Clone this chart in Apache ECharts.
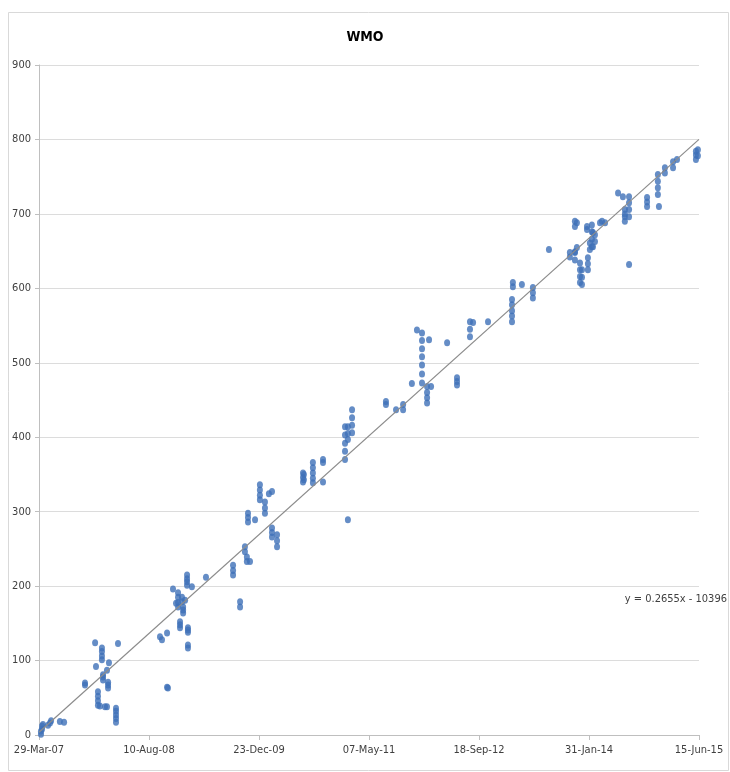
<!DOCTYPE html>
<html>
<head>
<meta charset="utf-8">
<script src="https://cdn.jsdelivr.net/npm/echarts@6/dist/echarts.min.js"></script>
<style>html,body{margin:0;padding:0;background:#fff}#c{width:730px;height:772px}</style>
</head>
<body>
<div id="c"></div>
<script>
// x = days since 29-Mar-07 (Excel serial 39170), y = value
const baseSerial = 39170;
const xTickLabels = ['29-Mar-07','10-Aug-08','23-Dec-09','07-May-11','18-Sep-12','31-Jan-14','15-Jun-15'];
const yTicks = [0,100,200,300,400,500,600,700,800,900];
const trendSlope = 0.2655;
const trendIntercept = -10396;
const trendLabel = 'y = 0.2655x - 10396';

const wmoPoints = [
[9,1],[9,5],[14,8],[14,12],[18,14],[41,13],[50,16],[55,19],[95,18],[114,17],
[255,124],[359,123],[286,101],[286,106],[286,112],[286,117],[259,92],[318,97],[309,87],[291,74],[291,78],[291,81],[209,67],[209,70],[314,63],[314,67],[314,71],[268,40],[268,46],[268,52],[268,58],[277,39],[300,38],[309,38],[350,17],[350,22],[350,27],[350,32],[350,36],
[673,201],[673,206],[673,210],[673,215],[759,212],[609,196],[695,199],[632,172],[632,178],[632,185],[632,191],[650,179],[650,185],[664,181],[623,177],[655,164],[655,168],[655,172],[641,144],[641,148],[641,152],[677,138],[677,141],[677,144],[550,132],[559,128],[582,137],[677,117],[677,121],[582,64],[586,63],
[1004,316],[1004,322],[1004,329],[1004,336],[1059,327],[1045,324],[1027,298],[1027,305],[1027,313],[950,286],[950,292],[950,298],[982,289],[1059,266],[1059,272],[1059,278],[1082,253],[1082,261],[1082,269],[936,246],[936,253],[945,233],[945,239],[959,233],[882,215],[882,221],[882,228],[914,172],[914,179],[1204,343],[1204,350],[1245,345],
[1200,340],[1200,346],[1200,352],[1245,352],[1245,359],[1245,366],[1291,366],[1291,370],[1245,339],[1291,340],
[1391,370],[1391,381],[1391,392],[1391,403],[1391,414],[1404,397],[1404,405],[1404,414],[1423,406],[1423,416],[1423,426],[1423,437],[1404,289],
[1577,444],[1577,448],[1623,437],[1655,437],[1655,444],[1718,544],[1741,473],[1741,485],[1741,497],[1741,508],[1741,519],[1741,530],[1741,540],[1773,531],[1855,527],[1695,472],[1764,446],[1764,453],[1764,460],[1764,468],[1782,468],[1900,470],[1900,475],[1900,480],
[2154,602],[2154,608],[2195,605],[2150,555],[2150,563],[2150,570],[2150,578],[2150,585],[1959,535],[1959,545],[1959,555],[1973,554],[2041,555],[2245,587],[2245,594],[2245,601],[2318,652],
[2413,642],[2413,648],[2436,649],[2445,688],[2459,608],[2459,616],[2459,625],[2459,634],[2495,625],[2495,633],[2495,641],[2491,679],[2491,683],[2513,656],[2513,666],[2513,676],[2513,685],[2527,663],[2527,672],[2550,688],[2573,688],[2632,728],[2654,723],[2663,690],[2663,696],[2682,632],
[2682,696],[2682,706],[2682,715],[2682,723],[2663,700],[2663,706],
[2764,710],[2764,716],[2764,722],[2813,726],[2813,735],[2813,744],[2813,753],[2818,710],[2845,755],[2845,762],[2882,762],[2882,770],[2900,773],[2986,773],[2986,779],[2986,784],[2995,778],[2995,786],
[2436,683],[2436,690],[2504,652],[2504,661],[2436,638],[2436,648],[2445,655],[2468,605],[2468,615],[2468,625],[2518,656],[2518,675],[2559,690]
];

const xMin = 0, xMax = 3000, xInterval = 500;
const trendPoints = [xMin, xMax].map(d => [d, trendSlope * (baseSerial + d) + trendIntercept]);

const chart = echarts.init(document.getElementById('c'), null, {renderer:'canvas'});
const labelFont = '"Liberation Sans Narrow","DejaVu Sans Condensed","Liberation Sans",Arial,sans-serif';
chart.setOption({
  animation:false,
  backgroundColor:'#fff',
  title:{text:'WMO', left:'center', top:25, textStyle:{fontFamily:labelFont, fontSize:14, fontWeight:'bold', color:'#000'}},
  grid:{left:39, right:31, top:65, bottom:37},
  xAxis:{type:'value', min:xMin, max:xMax, interval:xInterval,
    axisLine:{show:true, onZero:false, lineStyle:{color:'#bfbfbf'}},
    axisTick:{show:true, length:5, lineStyle:{color:'#bfbfbf'}},
    splitLine:{show:false},
    axisLabel:{fontFamily:labelFont, fontSize:11, color:'#404040', margin:10,
      formatter:v => xTickLabels[Math.round(v/xInterval)] || ''}},
  yAxis:{type:'value', min:yTicks[0], max:yTicks[yTicks.length-1], interval:100,
    axisLine:{show:true, lineStyle:{color:'#bfbfbf'}},
    axisTick:{show:true, length:4, lineStyle:{color:'#bfbfbf'}},
    splitLine:{show:true, lineStyle:{color:'#dcdcdc', width:1}},
    axisLabel:{fontFamily:labelFont, fontSize:11, color:'#404040', margin:8}},
  graphic:[
    {type:'rect', left:6, top:10, shape:{x:0,y:0,width:720,height:758}, style:{fill:'none', stroke:'#d9d9d9', lineWidth:1}, silent:true},
    {type:'text', right:3, top:594, style:{text:trendLabel, font:'11px '+labelFont, fill:'#404040'}}
  ],
  series:[
    {type:'scatter', data:wmoPoints, symbol:'circle', symbolSize:[6,7], itemStyle:{color:'#3f71b8'}, z:3},
    {type:'line', data:trendPoints, symbol:'none', lineStyle:{color:'#8c8c8c', width:1.2}, z:4}
  ]
});
</script>
</body>
</html>
